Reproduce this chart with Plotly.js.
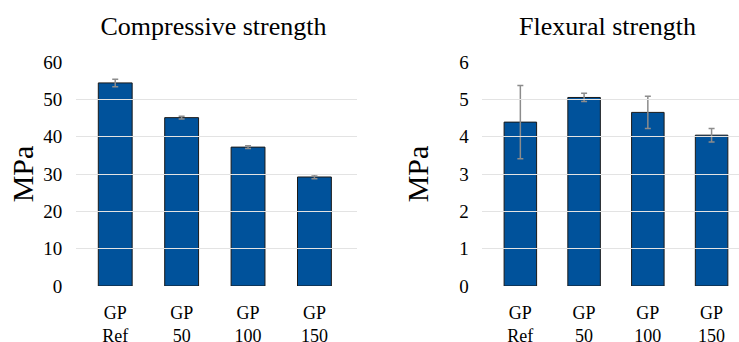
<!DOCTYPE html>
<html><head><meta charset="utf-8">
<script src="https://cdn.plot.ly/plotly-3.0.1.min.js"></script>
<style>html,body{margin:0;padding:0;background:#fff}#chart{width:739px;height:342px}</style>
</head><body><div id="chart"></div>
<script>
const categories = ["GP<br>Ref", "GP<br>50", "GP<br>100", "GP<br>150"];
const compressive = [54.4, 45.1, 37.2, 29.2];
const compressiveErr = [1.0, 0.4, 0.4, 0.5];
const flexural = [4.39, 5.05, 4.65, 4.04];
const flexuralErr = [0.98, 0.11, 0.43, 0.18];
const titles = ["Compressive strength", "Flexural strength"];
const yTitle = "MPa";

const FAM = "Liberation Serif";
const mkFont = (size) => ({family: FAM, size: size, color: "#000"});
const barStyle = () => ({color: "#00529B", line: {color: "#1a1a1a", width: 1}});
const errStyle = (arr) => ({type: "data", array: arr, visible: true, color: "#8c8c8c", thickness: 1.5, width: 3});

const traces = [
  // empty carriers so that the title axes are drawn (listed first so bars draw on top)
  {type: "scatter", mode: "markers", x: [categories[0]], y: [null], xaxis: "x3", yaxis: "y", hoverinfo: "none", showlegend: false},
  {type: "scatter", mode: "markers", x: [categories[0]], y: [null], xaxis: "x4", yaxis: "y2", hoverinfo: "none", showlegend: false},
  {type: "bar", x: categories, y: compressive, error_y: errStyle(compressiveErr), marker: barStyle(), width: 0.51, xaxis: "x", yaxis: "y", hoverinfo: "none"},
  {type: "bar", x: categories, y: flexural, error_y: errStyle(flexuralErr), marker: barStyle(), width: 0.51, xaxis: "x2", yaxis: "y2", hoverinfo: "none"}
];

const xbase = () => ({type: "category", showgrid: false, zeroline: false, showline: false, ticks: "outside", ticklen: 10, tickcolor: "rgba(0,0,0,0)", tickfont: mkFont(18), fixedrange: true});
const ybase = (standoff) => ({showgrid: true, gridcolor: "#e3e3e3", gridwidth: 1, zeroline: false, showline: false, ticks: "outside", ticklen: 15, tickcolor: "rgba(0,0,0,0)", tickfont: mkFont(19), fixedrange: true, title: {text: yTitle, font: mkFont(30), standoff: standoff}});
const titleAxis = (domain, text) => ({type: "category", anchor: "free", position: 1, side: "top", domain: domain, showgrid: false, zeroline: false, showline: false, ticks: "", showticklabels: false, fixedrange: true, title: {text: text, font: mkFont(26), standoff: 17}});

const layout = {
  width: 739, height: 342,
  margin: {l: 0, r: 0, t: 62, b: 56},
  paper_bgcolor: "#fff", plot_bgcolor: "rgba(0,0,0,0)",
  showlegend: false,
  font: mkFont(18),
  xaxis: Object.assign(xbase(), {domain: [0.111, 0.483], range: [-0.5, 3.64], anchor: "y"}),
  yaxis: Object.assign(ybase(0), {range: [0, 60], dtick: 10, anchor: "x"}),
  xaxis2: Object.assign(xbase(), {domain: [0.661, 1.0], range: [-0.5, 3.43], anchor: "y2"}),
  yaxis2: Object.assign(ybase(21), {range: [0, 6], dtick: 1, anchor: "x2"}),
  xaxis3: titleAxis([0.1029, 0.4749], titles[0]),
  xaxis4: titleAxis([0.6526, 0.9916], titles[1])
};

Plotly.newPlot("chart", traces, layout, {displayModeBar: false});
</script>
</body></html>
